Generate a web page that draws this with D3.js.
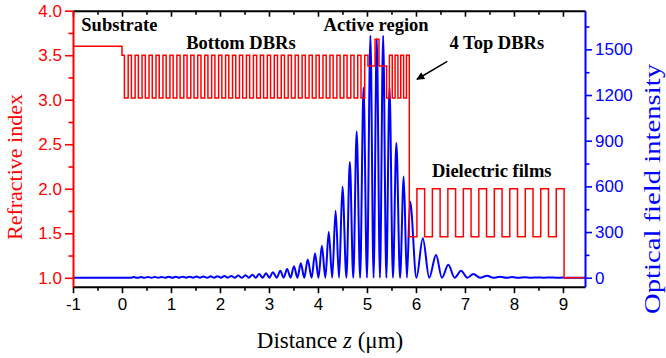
<!DOCTYPE html>
<html>
<head>
<meta charset="utf-8">
<script src="https://cdn.jsdelivr.net/npm/d3@7"></script>
<style>
  html, body { margin: 0; padding: 0; background: #fff; }
  svg { display: block; }
</style>
</head>
<body>
<svg id="chart" width="666" height="358"></svg>
<script>
// ---- Device layer stack: refractive index and thickness (µm) per layer group ----
const stackLabels = ["substrate", "buffer", "bottom DBR", "spacer", "quantum wells", "spacer",
                     "top DBR", "film", "film pairs", "film", "air"];
const stackIndex  = [[3.6], [3.5], [3.02, 3.5], [3.38], [3.68], [3.38],
                     [3.02, 3.5], [1.46], [2.0, 1.46], [2.0], [1.0]];
const stackThick  = [[1.0], [0.05], [0.076, 0.066], [0.145], [0.08], [0.155],
                     [0.058, 0.058], [0.155], [0.158, 0.158], [0.16], [0.45]];
const stackRepeat = [1, 1, 35, 1, 1, 1, 4, 1, 9, 1, 1];

// ---- Optical field intensity: extrema of the standing wave (z in µm, intensity) ----
const fieldZ = [-1.00, 0.17, 0.24, 0.31, 0.39, 0.46, 0.53, 0.60, 0.67, 0.74, 0.81, 0.88, 0.95, 1.03,
  1.10, 1.17, 1.24, 1.31, 1.38, 1.45, 1.52, 1.59, 1.66, 1.74, 1.81, 1.88, 1.95, 2.02, 2.09, 2.16,
  2.23, 2.30, 2.37, 2.45, 2.52, 2.59, 2.66, 2.73, 2.80, 2.87, 2.94, 3.01, 3.08, 3.16, 3.23, 3.30,
  3.37, 3.44, 3.51, 3.58, 3.65, 3.72, 3.79, 3.87, 3.94, 4.01, 4.08, 4.15, 4.22, 4.29, 4.36, 4.43,
  4.50, 4.58, 4.65, 4.72, 4.79, 4.86, 4.93, 5.00, 5.07, 5.135, 5.20, 5.265, 5.33, 5.395, 5.46, 5.53,
  5.60, 5.675, 5.75, 5.815, 5.88, 6.01, 6.14, 6.27, 6.41, 6.53, 6.66, 6.79, 6.92, 7.05, 7.17, 7.31,
  7.45, 7.58, 7.72, 7.84, 7.96, 8.09, 8.22, 8.35, 8.48, 8.61, 8.74, 8.87, 9.00, 9.05, 9.45];
const fieldI = [0, 0, 4, 0, 4, 0, 5, 0, 5, 0, 5, 0, 6, 0,
  6, 0, 7, 0, 7, 0, 8, 0, 8, 0, 9, 0, 10, 0, 11, 0,
  12, 0, 14, 0, 17, 0, 20, 0, 24, 0, 29, 0, 36, 0, 45, 0,
  58, 0, 75, 0, 95, 0, 120, 0, 160, 0, 210, 0, 300, 0, 440, 0,
  600, 0, 760, 0, 960, 0, 1250, 0, 1590, 0, 1570, 0, 1590, 0, 1250, 0,
  885, 0, 665, 0, 500, 0, 260, 0, 150, 0, 85, 0, 46, 0, 24, 0,
  13, 0, 7, 0, 4, 0, 3, 0, 2, 0, 1.5, 0, 1, 0, 0];

// ---- Axis ticks ----
const xTicks = [-1, 0, 1, 2, 3, 4, 5, 6, 7, 8, 9];
const xMinor = [-0.5, 0.5, 1.5, 2.5, 3.5, 4.5, 5.5, 6.5, 7.5, 8.5];
const nTicks = [1.0, 1.5, 2.0, 2.5, 3.0, 3.5, 4.0];
const nMinor = [1.25, 1.75, 2.25, 2.75, 3.25, 3.75];
const iTicks = [0, 300, 600, 900, 1200, 1500];
const iMinor = [150, 450, 750, 1050, 1350, 1650];

// ---- Text annotations ----
const notes = [
  { text: "Substrate",        x: -0.83, n: 3.77 },
  { text: "Bottom DBRs",      x: 1.31,  n: 3.57 },
  { text: "Active region",    x: 4.115, n: 3.77 },
  { text: "4 Top DBRs",       x: 6.685, n: 3.57 },
  { text: "Dielectric films", x: 6.325, n: 2.13 }
];

const W = 666, H = 358;
const plotL = 73, plotR = 585, plotT = 10.7, plotB = 286.7;
const RED = "#ff0000", BLUE = "#0000ff";
const SERIF = "'Times New Roman', 'Liberation Serif', Times, serif";
const SANS = "Arial, 'Liberation Sans', Helvetica, sans-serif";

const svg = d3.select("#chart");

const x  = d3.scaleLinear().domain([-1, 9.45]).range([plotL, plotR]);
const yN = d3.scaleLinear().domain([0.9, 4.0]).range([plotB, plotT]);
const yI = d3.scaleLinear().domain([-59, 1754]).range([plotB, plotT]);

const defs = svg.append("defs");
defs.append("clipPath").attr("id", "plot-clip")
  .append("rect").attr("x", plotL).attr("y", plotT)
  .attr("width", plotR - plotL).attr("height", plotB - plotT);

defs.append("marker")
  .attr("id", "arrowhead").attr("viewBox", "0 0 10 10")
  .attr("refX", 9).attr("refY", 5)
  .attr("markerWidth", 9).attr("markerHeight", 8)
  .attr("markerUnits", "userSpaceOnUse")
  .attr("orient", "auto")
  .append("path").attr("d", "M0,0 L10,5 L0,10 Z").attr("fill", "#000");

const plot = svg.append("g").attr("clip-path", "url(#plot-clip)");

// Optical field intensity curve
const fieldPts = fieldZ.map((z, i) => [z, fieldI[i]]);
plot.append("path")
  .datum(fieldPts)
  .attr("fill", "none")
  .attr("stroke", BLUE)
  .attr("stroke-width", 2)
  .attr("stroke-linejoin", "round")
  .attr("d", d3.line().x(d => x(d[0])).y(d => yI(d[1])).curve(d3.curveMonotoneX));

// Refractive index profile built from the layer stack
const indexPts = [];
let zPos = -1;
stackIndex.forEach((ns, g) => {
  for (let r = 0; r < stackRepeat[g]; r++) {
    ns.forEach((n, j) => {
      indexPts.push([zPos, n]);
      zPos += stackThick[g][j];
    });
  }
});
indexPts.push([zPos, stackIndex[stackIndex.length - 1][0]]);

plot.append("path")
  .datum(indexPts)
  .attr("fill", "none")
  .attr("stroke", RED)
  .attr("stroke-width", 1.5)
  .attr("d", d3.line().x(d => x(d[0])).y(d => yN(d[1])).curve(d3.curveStepAfter));

// ---- Axes ----
function styleAxis(g, color, width) {
  g.select(".domain").attr("stroke", color).attr("stroke-width", width);
  g.selectAll(".tick line").attr("stroke", color).attr("stroke-width", 1.6);
  g.selectAll(".tick text").attr("fill", color)
    .attr("font-family", SANS).attr("font-size", 17);
}
function minorTicks(g, color) {
  g.select(".domain").remove();
  g.selectAll(".tick line").attr("stroke", color).attr("stroke-width", 1.6);
}

// top frame line with inward ticks
const gTop = svg.append("g").attr("transform", `translate(0,${plotT})`)
  .call(d3.axisTop(x).tickValues(xTicks).tickSizeInner(-6).tickSizeOuter(0).tickFormat(""));
styleAxis(gTop, "#000", 2);
minorTicks(svg.append("g").attr("transform", `translate(0,${plotT})`)
  .call(d3.axisTop(x).tickValues(xMinor).tickSizeInner(-4).tickSizeOuter(0).tickFormat("")), "#000");

// bottom axis
const gBottom = svg.append("g").attr("transform", `translate(0,${plotB})`)
  .call(d3.axisBottom(x).tickValues(xTicks).tickSize(6.5).tickSizeOuter(0)
    .tickPadding(5).tickFormat(d => String(d)));
styleAxis(gBottom, "#000", 2);
minorTicks(svg.append("g").attr("transform", `translate(0,${plotB})`)
  .call(d3.axisBottom(x).tickValues(xMinor).tickSize(4).tickSizeOuter(0).tickFormat("")), "#000");

// left axis: refractive index
const gLeft = svg.append("g").attr("transform", `translate(${plotL},0)`)
  .call(d3.axisLeft(yN).tickValues(nTicks).tickSize(8).tickSizeOuter(0)
    .tickPadding(3).tickFormat(d3.format(".1f")));
styleAxis(gLeft, RED, 2);
minorTicks(svg.append("g").attr("transform", `translate(${plotL},0)`)
  .call(d3.axisLeft(yN).tickValues(nMinor).tickSize(4.5).tickSizeOuter(0).tickFormat("")), RED);

// right axis: optical field intensity
const gRight = svg.append("g").attr("transform", `translate(${plotR},0)`)
  .call(d3.axisRight(yI).tickValues(iTicks).tickSize(7).tickSizeOuter(0)
    .tickPadding(3).tickFormat(d => String(d)));
styleAxis(gRight, BLUE, 2);
minorTicks(svg.append("g").attr("transform", `translate(${plotR},0)`)
  .call(d3.axisRight(yI).tickValues(iMinor).tickSize(4.5).tickSizeOuter(0).tickFormat("")), BLUE);

// ---- Axis titles ----
svg.append("text")
  .attr("transform", `translate(22,167) rotate(-90)`)
  .attr("text-anchor", "middle")
  .attr("font-family", SERIF).attr("font-size", 22).attr("fill", RED)
  .text("Refractive index");

svg.append("text")
  .attr("transform", `translate(660,189) rotate(-90)`)
  .attr("text-anchor", "middle")
  .attr("font-family", SERIF).attr("font-size", 24).attr("fill", BLUE)
  .attr("textLength", 250).attr("lengthAdjust", "spacingAndGlyphs")
  .text("Optical field intensity");

const xTitle = svg.append("text")
  .attr("x", 330).attr("y", 347.5)
  .attr("text-anchor", "middle")
  .attr("font-family", SERIF).attr("font-size", 23).attr("fill", "#000");
xTitle.append("tspan").text("Distance ");
xTitle.append("tspan").attr("font-style", "italic").text("z");
xTitle.append("tspan").text(" (\u03bcm)");

// ---- Region annotations ----
svg.append("g").selectAll("text")
  .data(notes)
  .join("text")
  .attr("x", d => x(d.x))
  .attr("y", d => yN(d.n))
  .attr("font-family", SERIF).attr("font-size", 18.5).attr("font-weight", "bold")
  .attr("fill", "#000")
  .text(d => d.text);

// arrow pointing from "4 Top DBRs" to the top mirror
svg.append("line")
  .attr("x1", x(6.64)).attr("y1", yN(3.43))
  .attr("x2", x(6.02)).attr("y2", yN(3.23))
  .attr("stroke", "#000").attr("stroke-width", 1.5)
  .attr("marker-end", "url(#arrowhead)");
</script>
</body>
</html>
